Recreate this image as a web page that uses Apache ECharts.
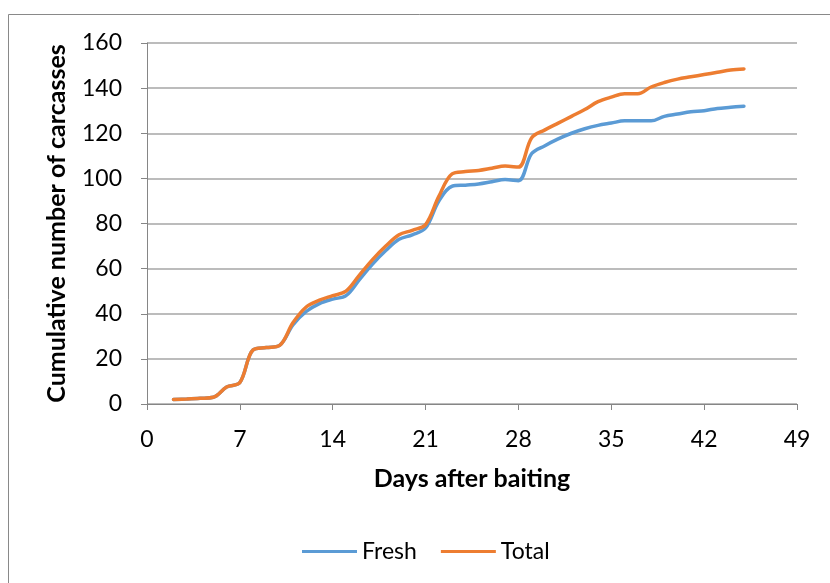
<!DOCTYPE html>
<html>
<head>
<meta charset="utf-8">
<script src="https://cdn.jsdelivr.net/npm/echarts@6/dist/echarts.min.js"></script>
<style>
  html, body { margin: 0; padding: 0; background: #fff; }
  #chart { width: 830px; height: 583px; }
</style>
</head>
<body>
<div id="chart"></div>
<script>
// Days after baiting on which carcasses were counted
const days = [2, 3, 4, 5, 6, 7, 8, 9, 10, 11, 12, 13, 14, 15, 16, 17, 18, 19, 20, 21, 22, 23,
  24, 25, 26, 27, 28, 29, 30, 31, 32, 33, 34, 35, 36, 37, 38, 39, 40, 41, 42, 43, 44, 45];

// Cumulative carcass counts
const fresh = [2, 2.2, 2.5, 3, 7.5, 9.5, 24, 25, 26, 35, 41, 44.5, 46.5, 48, 55, 62, 68, 73, 75, 78,
  90, 96.5, 97, 97.5, 98.5, 99.5, 99, 111, 114.5, 117.5, 120, 122, 123.5, 124.5, 125.5, 125.5,
  125.5, 127.5, 128.5, 129.5, 130, 131, 131.5, 132];
const total = [2, 2.2, 2.5, 3, 7.5, 9.5, 24, 25, 26, 36, 43, 46, 48, 50, 57, 64, 70, 75, 77, 79.5,
  92, 102, 103, 103.5, 104.5, 105.5, 105, 118, 121.5, 124.5, 127.5, 130.5, 134, 136, 137.5, 137.5,
  140.5, 142.5, 144, 145, 146, 147, 148, 148.5];

const xTicks = [0, 7, 14, 21, 28, 35, 42, 49];
const yTicks = [0, 20, 40, 60, 80, 100, 120, 140, 160];

const seriesNames = ['Fresh', 'Total'];
const colors = ['#5B9BD5', '#ED7D31'];

const pair = (vals) => days.map((d, i) => [d, vals[i]]);

const font = 'Lato, "Open Sans", "Noto Sans", sans-serif';
const chart = echarts.init(document.getElementById('chart'), null, { renderer: 'canvas' });

chart.setOption({
  animation: false,
  backgroundColor: '#ffffff',
  color: colors,
  graphic: [{
    type: 'rect',
    shape: { x: 8.5, y: 14.5, width: 830, height: 600 },
    style: { fill: 'none', stroke: '#898989', lineWidth: 1 },
    silent: true,
    z: -1
  }],
  grid: { left: 147, right: 33, top: 43, bottom: 179 },
  legend: {
    data: seriesNames,
    bottom: 15,
    left: 297,
    itemWidth: 55,
    itemHeight: 3,
    itemGap: 24,
    icon: 'rect',
    textStyle: { fontFamily: font, fontSize: 23, color: '#000' }
  },
  xAxis: {
    type: 'value',
    min: xTicks[0],
    max: xTicks[xTicks.length - 1],
    interval: 7,
    name: 'Days after baiting',
    nameLocation: 'middle',
    nameGap: 62,
    nameTextStyle: { fontFamily: font, fontSize: 25, fontWeight: 'bold', color: '#000' },
    axisLine: { show: true, lineStyle: { color: '#868686', width: 1 } },
    axisTick: { show: true, length: 6, lineStyle: { color: '#868686' } },
    axisLabel: { fontFamily: font, fontSize: 23, color: '#000', margin: 24 },
    splitLine: { show: false }
  },
  yAxis: {
    type: 'value',
    min: yTicks[0],
    max: yTicks[yTicks.length - 1],
    interval: 20,
    name: 'Cumulative number of carcasses',
    nameLocation: 'middle',
    nameGap: 78,
    nameTextStyle: { fontFamily: font, fontSize: 25, fontWeight: 'bold', color: '#000' },
    axisLine: { show: true, lineStyle: { color: '#868686', width: 1 } },
    axisTick: { show: true, length: 6, lineStyle: { color: '#868686' } },
    axisLabel: { fontFamily: font, fontSize: 23, color: '#000', margin: 25 },
    splitLine: { show: true, lineStyle: { color: '#A6A6A6', width: 1.5 } }
  },
  series: [
    {
      name: seriesNames[0],
      type: 'line',
      data: pair(fresh),
      smooth: 0.35,
      symbol: 'none',
      lineStyle: { width: 3.5, color: colors[0], cap: 'round' }
    },
    {
      name: seriesNames[1],
      type: 'line',
      data: pair(total),
      smooth: 0.35,
      symbol: 'none',
      lineStyle: { width: 3.5, color: colors[1], cap: 'round' }
    }
  ]
});
</script>
</body>
</html>
